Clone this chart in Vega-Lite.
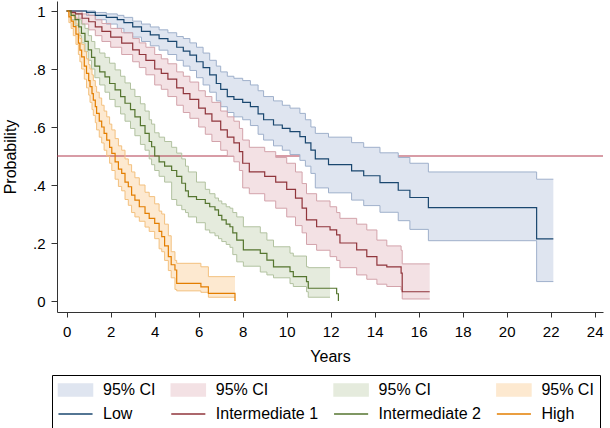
{
  "$schema": "https://vega.github.io/schema/vega-lite/v6.json",
  "width": 546,
  "height": 311,
  "autosize": {"type": "none"},
  "padding": {"left": 57, "top": 1, "right": 7, "bottom": 116},
  "background": "white",
  "config": {
    "font": "Liberation Sans",
    "view": {"stroke": null},
    "axis": {"grid": false, "domainColor": "#333333", "tickColor": "#333333", "labelColor": "#000000", "titleColor": "#000000", "labelFontSize": 15, "titleFontSize": 16, "titleFontWeight": "normal", "labelFont": "Liberation Sans", "titleFont": "Liberation Sans"}
  },
  "datasets": {
    "est": [
      {"g":"Low","t":0,"s":1},{"g":"Low","t":0.9,"s":0.995},{"g":"Low","t":1.3,"s":0.985},{"g":"Low","t":1.8,"s":0.978},{"g":"Low","t":2.3,"s":0.97},{"g":"Low","t":2.6,"s":0.96},{"g":"Low","t":3.0,"s":0.945},{"g":"Low","t":3.4,"s":0.93},{"g":"Low","t":3.8,"s":0.918},{"g":"Low","t":4.2,"s":0.905},{"g":"Low","t":4.6,"s":0.895},{"g":"Low","t":5.0,"s":0.875},{"g":"Low","t":5.3,"s":0.862},{"g":"Low","t":5.6,"s":0.848},{"g":"Low","t":5.9,"s":0.825},{"g":"Low","t":6.2,"s":0.805},{"g":"Low","t":6.5,"s":0.78},{"g":"Low","t":6.8,"s":0.75},{"g":"Low","t":7.0,"s":0.73},{"g":"Low","t":7.3,"s":0.705},{"g":"Low","t":7.6,"s":0.695},{"g":"Low","t":8.0,"s":0.685},{"g":"Low","t":8.35,"s":0.67},{"g":"Low","t":8.7,"s":0.645},{"g":"Low","t":8.95,"s":0.625},{"g":"Low","t":9.4,"s":0.607},{"g":"Low","t":9.8,"s":0.595},{"g":"Low","t":10.15,"s":0.584},{"g":"Low","t":10.6,"s":0.567},{"g":"Low","t":10.85,"s":0.545},{"g":"Low","t":11.1,"s":0.52},{"g":"Low","t":11.3,"s":0.49},{"g":"Low","t":11.9,"s":0.47},{"g":"Low","t":12.95,"s":0.449},{"g":"Low","t":13.5,"s":0.432},{"g":"Low","t":14.24,"s":0.408},{"g":"Low","t":15.07,"s":0.382},{"g":"Low","t":15.6,"s":0.357},{"g":"Low","t":16.44,"s":0.322},{"g":"Low","t":21.36,"s":0.214},{"g":"Low","t":22.12,"s":0.214},
      {"g":"Intermediate 1","t":0,"s":1},{"g":"Intermediate 1","t":0.2,"s":0.995},{"g":"Intermediate 1","t":0.4,"s":0.99},{"g":"Intermediate 1","t":0.7,"s":0.975},{"g":"Intermediate 1","t":1.0,"s":0.963},{"g":"Intermediate 1","t":1.3,"s":0.945},{"g":"Intermediate 1","t":1.6,"s":0.93},{"g":"Intermediate 1","t":2.0,"s":0.91},{"g":"Intermediate 1","t":2.5,"s":0.889},{"g":"Intermediate 1","t":3.0,"s":0.866},{"g":"Intermediate 1","t":3.3,"s":0.85},{"g":"Intermediate 1","t":3.6,"s":0.83},{"g":"Intermediate 1","t":4.0,"s":0.8},{"g":"Intermediate 1","t":4.3,"s":0.785},{"g":"Intermediate 1","t":4.6,"s":0.765},{"g":"Intermediate 1","t":5.0,"s":0.735},{"g":"Intermediate 1","t":5.3,"s":0.715},{"g":"Intermediate 1","t":5.6,"s":0.695},{"g":"Intermediate 1","t":6.0,"s":0.665},{"g":"Intermediate 1","t":6.3,"s":0.645},{"g":"Intermediate 1","t":6.6,"s":0.62},{"g":"Intermediate 1","t":7.0,"s":0.59},{"g":"Intermediate 1","t":7.3,"s":0.565},{"g":"Intermediate 1","t":7.6,"s":0.545},{"g":"Intermediate 1","t":7.85,"s":0.515},{"g":"Intermediate 1","t":8.0,"s":0.475},{"g":"Intermediate 1","t":8.3,"s":0.445},{"g":"Intermediate 1","t":9.0,"s":0.43},{"g":"Intermediate 1","t":9.5,"s":0.41},{"g":"Intermediate 1","t":10.0,"s":0.385},{"g":"Intermediate 1","t":10.4,"s":0.355},{"g":"Intermediate 1","t":10.7,"s":0.32},{"g":"Intermediate 1","t":10.9,"s":0.28},{"g":"Intermediate 1","t":11.36,"s":0.256},{"g":"Intermediate 1","t":11.97,"s":0.245},{"g":"Intermediate 1","t":12.27,"s":0.228},{"g":"Intermediate 1","t":12.42,"s":0.2},{"g":"Intermediate 1","t":13.18,"s":0.176},{"g":"Intermediate 1","t":13.64,"s":0.153},{"g":"Intermediate 1","t":14.1,"s":0.124},{"g":"Intermediate 1","t":14.55,"s":0.118},{"g":"Intermediate 1","t":15.2,"s":0.096},{"g":"Intermediate 1","t":15.25,"s":0.032},{"g":"Intermediate 1","t":16.5,"s":0.032},
      {"g":"Intermediate 2","t":0,"s":1},{"g":"Intermediate 2","t":0.2,"s":0.985},{"g":"Intermediate 2","t":0.38,"s":0.97},{"g":"Intermediate 2","t":0.55,"s":0.945},{"g":"Intermediate 2","t":0.67,"s":0.923},{"g":"Intermediate 2","t":0.83,"s":0.895},{"g":"Intermediate 2","t":0.98,"s":0.866},{"g":"Intermediate 2","t":1.13,"s":0.84},{"g":"Intermediate 2","t":1.28,"s":0.81},{"g":"Intermediate 2","t":1.5,"s":0.79},{"g":"Intermediate 2","t":1.74,"s":0.773},{"g":"Intermediate 2","t":1.95,"s":0.75},{"g":"Intermediate 2","t":2.2,"s":0.728},{"g":"Intermediate 2","t":2.45,"s":0.705},{"g":"Intermediate 2","t":2.65,"s":0.682},{"g":"Intermediate 2","t":2.9,"s":0.66},{"g":"Intermediate 2","t":3.1,"s":0.635},{"g":"Intermediate 2","t":3.35,"s":0.605},{"g":"Intermediate 2","t":3.56,"s":0.578},{"g":"Intermediate 2","t":3.75,"s":0.55},{"g":"Intermediate 2","t":3.86,"s":0.532},{"g":"Intermediate 2","t":4.0,"s":0.5},{"g":"Intermediate 2","t":4.2,"s":0.48},{"g":"Intermediate 2","t":4.45,"s":0.465},{"g":"Intermediate 2","t":4.77,"s":0.45},{"g":"Intermediate 2","t":5.0,"s":0.43},{"g":"Intermediate 2","t":5.23,"s":0.406},{"g":"Intermediate 2","t":5.4,"s":0.38},{"g":"Intermediate 2","t":5.53,"s":0.36},{"g":"Intermediate 2","t":5.9,"s":0.35},{"g":"Intermediate 2","t":6.3,"s":0.337},{"g":"Intermediate 2","t":6.5,"s":0.325},{"g":"Intermediate 2","t":6.74,"s":0.314},{"g":"Intermediate 2","t":6.9,"s":0.295},{"g":"Intermediate 2","t":7.05,"s":0.28},{"g":"Intermediate 2","t":7.25,"s":0.265},{"g":"Intermediate 2","t":7.42,"s":0.256},{"g":"Intermediate 2","t":7.55,"s":0.235},{"g":"Intermediate 2","t":7.73,"s":0.21},{"g":"Intermediate 2","t":8.03,"s":0.176},{"g":"Intermediate 2","t":8.8,"s":0.164},{"g":"Intermediate 2","t":9.1,"s":0.141},{"g":"Intermediate 2","t":9.4,"s":0.118},{"g":"Intermediate 2","t":10.15,"s":0.101},{"g":"Intermediate 2","t":10.3,"s":0.084},{"g":"Intermediate 2","t":10.9,"s":0.067},{"g":"Intermediate 2","t":10.98,"s":0.044},{"g":"Intermediate 2","t":12.27,"s":0.025},{"g":"Intermediate 2","t":12.35,"s":0},
      {"g":"High","t":0,"s":1},{"g":"High","t":0.1,"s":0.98},{"g":"High","t":0.2,"s":0.965},{"g":"High","t":0.3,"s":0.946},{"g":"High","t":0.42,"s":0.92},{"g":"High","t":0.53,"s":0.889},{"g":"High","t":0.6,"s":0.865},{"g":"High","t":0.68,"s":0.842},{"g":"High","t":0.8,"s":0.81},{"g":"High","t":0.9,"s":0.785},{"g":"High","t":1.0,"s":0.76},{"g":"High","t":1.06,"s":0.739},{"g":"High","t":1.15,"s":0.715},{"g":"High","t":1.21,"s":0.693},{"g":"High","t":1.3,"s":0.67},{"g":"High","t":1.36,"s":0.647},{"g":"High","t":1.48,"s":0.62},{"g":"High","t":1.59,"s":0.6},{"g":"High","t":1.7,"s":0.578},{"g":"High","t":1.82,"s":0.555},{"g":"High","t":1.95,"s":0.53},{"g":"High","t":2.05,"s":0.509},{"g":"High","t":2.2,"s":0.48},{"g":"High","t":2.35,"s":0.455},{"g":"High","t":2.5,"s":0.44},{"g":"High","t":2.65,"s":0.41},{"g":"High","t":2.8,"s":0.394},{"g":"High","t":2.95,"s":0.365},{"g":"High","t":3.1,"s":0.348},{"g":"High","t":3.3,"s":0.325},{"g":"High","t":3.56,"s":0.302},{"g":"High","t":3.75,"s":0.285},{"g":"High","t":4.0,"s":0.268},{"g":"High","t":4.2,"s":0.24},{"g":"High","t":4.32,"s":0.222},{"g":"High","t":4.45,"s":0.19},{"g":"High","t":4.62,"s":0.153},{"g":"High","t":4.75,"s":0.125},{"g":"High","t":4.92,"s":0.107},{"g":"High","t":5.0,"s":0.061},{"g":"High","t":6.1,"s":0.049},{"g":"High","t":6.44,"s":0.026},{"g":"High","t":7.65,"s":0}
    ],
    "ci": [
      {"band":"Low CI","t":0,"lo":1,"hi":1},{"band":"Low CI","t":0.9,"lo":0.985,"hi":1},{"band":"Low CI","t":1.3,"lo":0.97,"hi":0.995},{"band":"Low CI","t":1.8,"lo":0.955,"hi":0.99},{"band":"Low CI","t":2.3,"lo":0.94,"hi":0.985},{"band":"Low CI","t":2.6,"lo":0.925,"hi":0.978},{"band":"Low CI","t":3.0,"lo":0.91,"hi":0.965},{"band":"Low CI","t":3.4,"lo":0.895,"hi":0.955},{"band":"Low CI","t":3.8,"lo":0.88,"hi":0.945},{"band":"Low CI","t":4.2,"lo":0.865,"hi":0.935},{"band":"Low CI","t":4.6,"lo":0.85,"hi":0.925},{"band":"Low CI","t":5.0,"lo":0.83,"hi":0.912},{"band":"Low CI","t":5.3,"lo":0.81,"hi":0.905},{"band":"Low CI","t":5.6,"lo":0.795,"hi":0.89},{"band":"Low CI","t":5.9,"lo":0.77,"hi":0.875},{"band":"Low CI","t":6.2,"lo":0.745,"hi":0.855},{"band":"Low CI","t":6.5,"lo":0.72,"hi":0.83},{"band":"Low CI","t":6.8,"lo":0.69,"hi":0.81},{"band":"Low CI","t":7.0,"lo":0.67,"hi":0.79},{"band":"Low CI","t":7.3,"lo":0.65,"hi":0.775},{"band":"Low CI","t":7.6,"lo":0.635,"hi":0.768},{"band":"Low CI","t":8.0,"lo":0.625,"hi":0.76},{"band":"Low CI","t":8.35,"lo":0.605,"hi":0.745},{"band":"Low CI","t":8.7,"lo":0.575,"hi":0.725},{"band":"Low CI","t":8.95,"lo":0.555,"hi":0.705},{"band":"Low CI","t":9.4,"lo":0.535,"hi":0.69},{"band":"Low CI","t":9.8,"lo":0.52,"hi":0.675},{"band":"Low CI","t":10.15,"lo":0.505,"hi":0.665},{"band":"Low CI","t":10.6,"lo":0.485,"hi":0.647},{"band":"Low CI","t":10.85,"lo":0.465,"hi":0.625},{"band":"Low CI","t":11.1,"lo":0.44,"hi":0.6},{"band":"Low CI","t":11.3,"lo":0.39,"hi":0.578},{"band":"Low CI","t":11.9,"lo":0.373,"hi":0.565},{"band":"Low CI","t":12.95,"lo":0.348,"hi":0.546},{"band":"Low CI","t":13.5,"lo":0.329,"hi":0.53},{"band":"Low CI","t":14.24,"lo":0.306,"hi":0.511},{"band":"Low CI","t":15.07,"lo":0.277,"hi":0.495},{"band":"Low CI","t":15.6,"lo":0.247,"hi":0.475},{"band":"Low CI","t":16.44,"lo":0.208,"hi":0.445},{"band":"Low CI","t":21.36,"lo":0.067,"hi":0.42},{"band":"Low CI","t":22.12,"lo":0.067,"hi":0.42},
      {"band":"Intermediate 1 CI","t":0,"lo":1,"hi":1},{"band":"Intermediate 1 CI","t":0.2,"lo":0.99,"hi":1},{"band":"Intermediate 1 CI","t":0.4,"lo":0.975,"hi":1},{"band":"Intermediate 1 CI","t":0.7,"lo":0.955,"hi":0.99},{"band":"Intermediate 1 CI","t":1.0,"lo":0.935,"hi":0.985},{"band":"Intermediate 1 CI","t":1.3,"lo":0.915,"hi":0.97},{"band":"Intermediate 1 CI","t":1.6,"lo":0.895,"hi":0.957},{"band":"Intermediate 1 CI","t":2.0,"lo":0.875,"hi":0.94},{"band":"Intermediate 1 CI","t":2.5,"lo":0.85,"hi":0.925},{"band":"Intermediate 1 CI","t":3.0,"lo":0.825,"hi":0.905},{"band":"Intermediate 1 CI","t":3.3,"lo":0.805,"hi":0.89},{"band":"Intermediate 1 CI","t":3.6,"lo":0.78,"hi":0.875},{"band":"Intermediate 1 CI","t":4.0,"lo":0.745,"hi":0.85},{"band":"Intermediate 1 CI","t":4.3,"lo":0.73,"hi":0.835},{"band":"Intermediate 1 CI","t":4.6,"lo":0.705,"hi":0.818},{"band":"Intermediate 1 CI","t":5.0,"lo":0.675,"hi":0.79},{"band":"Intermediate 1 CI","t":5.3,"lo":0.65,"hi":0.775},{"band":"Intermediate 1 CI","t":5.6,"lo":0.63,"hi":0.755},{"band":"Intermediate 1 CI","t":6.0,"lo":0.6,"hi":0.725},{"band":"Intermediate 1 CI","t":6.3,"lo":0.575,"hi":0.705},{"band":"Intermediate 1 CI","t":6.6,"lo":0.55,"hi":0.685},{"band":"Intermediate 1 CI","t":7.0,"lo":0.52,"hi":0.655},{"band":"Intermediate 1 CI","t":7.3,"lo":0.5,"hi":0.635},{"band":"Intermediate 1 CI","t":7.6,"lo":0.48,"hi":0.62},{"band":"Intermediate 1 CI","t":7.85,"lo":0.45,"hi":0.595},{"band":"Intermediate 1 CI","t":8.0,"lo":0.39,"hi":0.555},{"band":"Intermediate 1 CI","t":8.3,"lo":0.37,"hi":0.53},{"band":"Intermediate 1 CI","t":9.0,"lo":0.345,"hi":0.515},{"band":"Intermediate 1 CI","t":9.5,"lo":0.32,"hi":0.495},{"band":"Intermediate 1 CI","t":10.0,"lo":0.29,"hi":0.475},{"band":"Intermediate 1 CI","t":10.4,"lo":0.26,"hi":0.445},{"band":"Intermediate 1 CI","t":10.7,"lo":0.235,"hi":0.405},{"band":"Intermediate 1 CI","t":10.9,"lo":0.195,"hi":0.37},{"band":"Intermediate 1 CI","t":11.36,"lo":0.175,"hi":0.345},{"band":"Intermediate 1 CI","t":11.97,"lo":0.153,"hi":0.325},{"band":"Intermediate 1 CI","t":12.27,"lo":0.14,"hi":0.305},{"band":"Intermediate 1 CI","t":12.42,"lo":0.115,"hi":0.285},{"band":"Intermediate 1 CI","t":13.18,"lo":0.09,"hi":0.265},{"band":"Intermediate 1 CI","t":13.64,"lo":0.075,"hi":0.245},{"band":"Intermediate 1 CI","t":14.1,"lo":0.058,"hi":0.21},{"band":"Intermediate 1 CI","t":14.55,"lo":0.05,"hi":0.19},{"band":"Intermediate 1 CI","t":15.2,"lo":0.038,"hi":0.175},{"band":"Intermediate 1 CI","t":15.25,"lo":0.007,"hi":0.128},{"band":"Intermediate 1 CI","t":16.5,"lo":0.007,"hi":0.128},
      {"band":"Intermediate 2 CI","t":0,"lo":1,"hi":1},{"band":"Intermediate 2 CI","t":0.2,"lo":0.97,"hi":0.995},{"band":"Intermediate 2 CI","t":0.38,"lo":0.95,"hi":0.99},{"band":"Intermediate 2 CI","t":0.55,"lo":0.915,"hi":0.97},{"band":"Intermediate 2 CI","t":0.67,"lo":0.89,"hi":0.955},{"band":"Intermediate 2 CI","t":0.83,"lo":0.86,"hi":0.94},{"band":"Intermediate 2 CI","t":0.98,"lo":0.83,"hi":0.915},{"band":"Intermediate 2 CI","t":1.13,"lo":0.8,"hi":0.895},{"band":"Intermediate 2 CI","t":1.28,"lo":0.77,"hi":0.87},{"band":"Intermediate 2 CI","t":1.5,"lo":0.745,"hi":0.855},{"band":"Intermediate 2 CI","t":1.74,"lo":0.72,"hi":0.84},{"band":"Intermediate 2 CI","t":1.95,"lo":0.695,"hi":0.82},{"band":"Intermediate 2 CI","t":2.2,"lo":0.67,"hi":0.797},{"band":"Intermediate 2 CI","t":2.45,"lo":0.645,"hi":0.775},{"band":"Intermediate 2 CI","t":2.65,"lo":0.62,"hi":0.752},{"band":"Intermediate 2 CI","t":2.9,"lo":0.595,"hi":0.73},{"band":"Intermediate 2 CI","t":3.1,"lo":0.57,"hi":0.705},{"band":"Intermediate 2 CI","t":3.35,"lo":0.54,"hi":0.68},{"band":"Intermediate 2 CI","t":3.56,"lo":0.52,"hi":0.655},{"band":"Intermediate 2 CI","t":3.75,"lo":0.49,"hi":0.625},{"band":"Intermediate 2 CI","t":3.86,"lo":0.47,"hi":0.61},{"band":"Intermediate 2 CI","t":4.0,"lo":0.45,"hi":0.58},{"band":"Intermediate 2 CI","t":4.2,"lo":0.43,"hi":0.565},{"band":"Intermediate 2 CI","t":4.45,"lo":0.41,"hi":0.55},{"band":"Intermediate 2 CI","t":4.77,"lo":0.35,"hi":0.53},{"band":"Intermediate 2 CI","t":5.0,"lo":0.33,"hi":0.51},{"band":"Intermediate 2 CI","t":5.23,"lo":0.315,"hi":0.49},{"band":"Intermediate 2 CI","t":5.4,"lo":0.305,"hi":0.465},{"band":"Intermediate 2 CI","t":5.53,"lo":0.29,"hi":0.445},{"band":"Intermediate 2 CI","t":5.9,"lo":0.27,"hi":0.41},{"band":"Intermediate 2 CI","t":6.3,"lo":0.245,"hi":0.385},{"band":"Intermediate 2 CI","t":6.5,"lo":0.235,"hi":0.37},{"band":"Intermediate 2 CI","t":6.74,"lo":0.225,"hi":0.355},{"band":"Intermediate 2 CI","t":6.9,"lo":0.215,"hi":0.345},{"band":"Intermediate 2 CI","t":7.05,"lo":0.205,"hi":0.335},{"band":"Intermediate 2 CI","t":7.25,"lo":0.195,"hi":0.325},{"band":"Intermediate 2 CI","t":7.42,"lo":0.185,"hi":0.32},{"band":"Intermediate 2 CI","t":7.55,"lo":0.16,"hi":0.305},{"band":"Intermediate 2 CI","t":7.73,"lo":0.135,"hi":0.29},{"band":"Intermediate 2 CI","t":8.03,"lo":0.12,"hi":0.256},{"band":"Intermediate 2 CI","t":8.8,"lo":0.1,"hi":0.235},{"band":"Intermediate 2 CI","t":9.1,"lo":0.09,"hi":0.21},{"band":"Intermediate 2 CI","t":9.4,"lo":0.08,"hi":0.187},{"band":"Intermediate 2 CI","t":10.15,"lo":0.06,"hi":0.165},{"band":"Intermediate 2 CI","t":10.3,"lo":0.05,"hi":0.155},{"band":"Intermediate 2 CI","t":10.9,"lo":0.032,"hi":0.118},{"band":"Intermediate 2 CI","t":10.98,"lo":0.013,"hi":0.115},{"band":"Intermediate 2 CI","t":11.97,"lo":0.013,"hi":0.115},
      {"band":"High CI","t":0,"lo":1,"hi":1},{"band":"High CI","t":0.1,"lo":0.96,"hi":1},{"band":"High CI","t":0.2,"lo":0.94,"hi":0.99},{"band":"High CI","t":0.3,"lo":0.915,"hi":0.98},{"band":"High CI","t":0.42,"lo":0.885,"hi":0.955},{"band":"High CI","t":0.53,"lo":0.85,"hi":0.925},{"band":"High CI","t":0.6,"lo":0.825,"hi":0.905},{"band":"High CI","t":0.68,"lo":0.8,"hi":0.885},{"band":"High CI","t":0.8,"lo":0.765,"hi":0.86},{"band":"High CI","t":0.9,"lo":0.735,"hi":0.835},{"band":"High CI","t":1.0,"lo":0.71,"hi":0.815},{"band":"High CI","t":1.06,"lo":0.685,"hi":0.8},{"band":"High CI","t":1.15,"lo":0.66,"hi":0.78},{"band":"High CI","t":1.21,"lo":0.64,"hi":0.76},{"band":"High CI","t":1.3,"lo":0.615,"hi":0.74},{"band":"High CI","t":1.36,"lo":0.59,"hi":0.72},{"band":"High CI","t":1.48,"lo":0.565,"hi":0.7},{"band":"High CI","t":1.59,"lo":0.545,"hi":0.675},{"band":"High CI","t":1.7,"lo":0.52,"hi":0.655},{"band":"High CI","t":1.82,"lo":0.5,"hi":0.635},{"band":"High CI","t":1.95,"lo":0.475,"hi":0.61},{"band":"High CI","t":2.05,"lo":0.45,"hi":0.59},{"band":"High CI","t":2.2,"lo":0.42,"hi":0.56},{"band":"High CI","t":2.35,"lo":0.395,"hi":0.535},{"band":"High CI","t":2.5,"lo":0.38,"hi":0.52},{"band":"High CI","t":2.65,"lo":0.35,"hi":0.49},{"band":"High CI","t":2.8,"lo":0.33,"hi":0.47},{"band":"High CI","t":2.95,"lo":0.305,"hi":0.445},{"band":"High CI","t":3.1,"lo":0.29,"hi":0.425},{"band":"High CI","t":3.3,"lo":0.275,"hi":0.4},{"band":"High CI","t":3.56,"lo":0.255,"hi":0.375},{"band":"High CI","t":3.75,"lo":0.24,"hi":0.36},{"band":"High CI","t":4.0,"lo":0.215,"hi":0.335},{"band":"High CI","t":4.2,"lo":0.18,"hi":0.31},{"band":"High CI","t":4.32,"lo":0.17,"hi":0.3},{"band":"High CI","t":4.45,"lo":0.14,"hi":0.265},{"band":"High CI","t":4.62,"lo":0.105,"hi":0.225},{"band":"High CI","t":4.75,"lo":0.08,"hi":0.17},{"band":"High CI","t":4.92,"lo":0.04,"hi":0.14},{"band":"High CI","t":5.0,"lo":0.035,"hi":0.13},{"band":"High CI","t":6.1,"lo":0.03,"hi":0.118},{"band":"High CI","t":6.44,"lo":0.013,"hi":0.084},{"band":"High CI","t":7.65,"lo":0.013,"hi":0.084}
    ]
  },
  "layer": [
    {
      "data": {"name": "ci"},
      "transform": [{"filter": "datum.band == 'Intermediate 2 CI' || datum.band == 'High CI'"}],
      "mark": {"type": "area", "interpolate": "step-after", "opacity": 1},
      "encoding": {
        "x": {"field": "t", "type": "quantitative", "title": "Years", "scale": {"domain": [-0.441, 24.377], "nice": false, "zero": false},
          "axis": {"values": [0,1,2,3,4,5,6,7,8,9,10,11,12,13,14,15,16,17,18,19,20,21,22,23,24], "labelExpr": "datum.value % 2 == 0 ? datum.label : ''", "tickSize": 5, "labelPadding": 7, "titlePadding": 9, "labelOverlap": false, "labelFlush": false}},
        "y": {"field": "lo", "type": "quantitative", "title": "Probability", "scale": {"domain": [-0.0379, 1.0345], "nice": false, "zero": false},
          "axis": {"values": [0,0.1,0.2,0.3,0.4,0.5,0.6,0.7,0.8,0.9,1], "labelExpr": "round(datum.value*10) % 2 == 0 ? (datum.value == 0 ? '0' : (datum.value == 1 ? '1' : replace(format(datum.value, '.1f'), '0.', '.'))) : ''", "tickSize": 6, "labelPadding": 6, "titlePadding": 14, "labelOverlap": false, "labelFlush": false}},
        "y2": {"field": "hi"},
        "color": {"field": "band", "type": "nominal", "title": null,
          "scale": {"domain": ["Low CI","Intermediate 1 CI","Intermediate 2 CI","High CI","Low","Intermediate 1","Intermediate 2","High"], "range": ["#dfe5f0","#f3e1e4","#e5ebdd","#fde9d0","#1a476f","#90353b","#55752f","#e37e00"]},
          "legend": {"orient": "none", "legendX": -5, "legendY": 374, "columns": 4, "direction": "horizontal", "title": null,
            "labelFontSize": 16, "labelFont": "Liberation Sans", "labelColor": "#000000", "labelOffset": 18.5, "labelLimit": 300,
            "symbolSize": 256, "symbolOffset": 8.5, "symbolStrokeWidth": 1.5, "rowPadding": 6, "columnPadding": 11.8, "padding": 6,
            "strokeColor": "#000000", "fillColor": "white",
            "labelExpr": "indexof(datum.value, ' CI') >= 0 ? '95% CI' : datum.value",
            "symbolType": {"expr": "indexof(datum.value, ' CI') >= 0 ? 'M-2.13,-0.75H2.13V0.75H-2.13Z' : 'M-2.13,0H2.13'"},
            "symbolFillColor": {"expr": "indexof(datum.value, ' CI') >= 0 ? scale('color', datum.value) : 'transparent'"},
            "symbolStrokeColor": {"expr": "indexof(datum.value, ' CI') >= 0 ? 'transparent' : scale('color', datum.value)"},
            "symbolOpacity": {"expr": "indexof(datum.value, ' CI') >= 0 ? 1 : 0.6"}
          }}
      }
    },
    {
      "data": {"values": [{}]},
      "mark": {"type": "rule", "color": "#b23a4e", "strokeWidth": 1.1},
      "encoding": {"y": {"datum": 0.5, "type": "quantitative", "title": "Probability"}}
    },
    {
      "data": {"name": "ci"},
      "transform": [{"filter": "datum.band == 'Low CI' || datum.band == 'Intermediate 1 CI'"}],
      "mark": {"type": "area", "interpolate": "step-after", "opacity": 1},
      "encoding": {
        "x": {"field": "t", "type": "quantitative", "title": "Years"},
        "y": {"field": "lo", "type": "quantitative", "title": "Probability"},
        "y2": {"field": "hi"},
        "color": {"field": "band", "type": "nominal", "title": null}
      }
    },
    {
      "data": {"name": "ci"},
      "mark": {"type": "line", "interpolate": "step-after", "strokeWidth": 1},
      "encoding": {
        "x": {"field": "t", "type": "quantitative", "title": "Years"},
        "y": {"field": "lo", "type": "quantitative", "title": "Probability"},
        "stroke": {"field": "band", "type": "nominal", "legend": null,
          "scale": {"domain": ["Low CI","Intermediate 1 CI","Intermediate 2 CI","High CI"], "range": ["#9fb0cb","#d3a3ab","#b2c2a0","#f3c07e"]}}
      }
    },
    {
      "data": {"name": "ci"},
      "mark": {"type": "line", "interpolate": "step-after", "strokeWidth": 1},
      "encoding": {
        "x": {"field": "t", "type": "quantitative", "title": "Years"},
        "y": {"field": "hi", "type": "quantitative", "title": "Probability"},
        "stroke": {"field": "band", "type": "nominal", "legend": null}
      }
    },
    {
      "data": {"name": "est"},
      "mark": {"type": "line", "interpolate": "step-after", "strokeWidth": 1.2},
      "encoding": {
        "x": {"field": "t", "type": "quantitative", "title": "Years"},
        "y": {"field": "s", "type": "quantitative", "title": "Probability"},
        "color": {"field": "g", "type": "nominal", "title": null}
      }
    }
  ]
}
